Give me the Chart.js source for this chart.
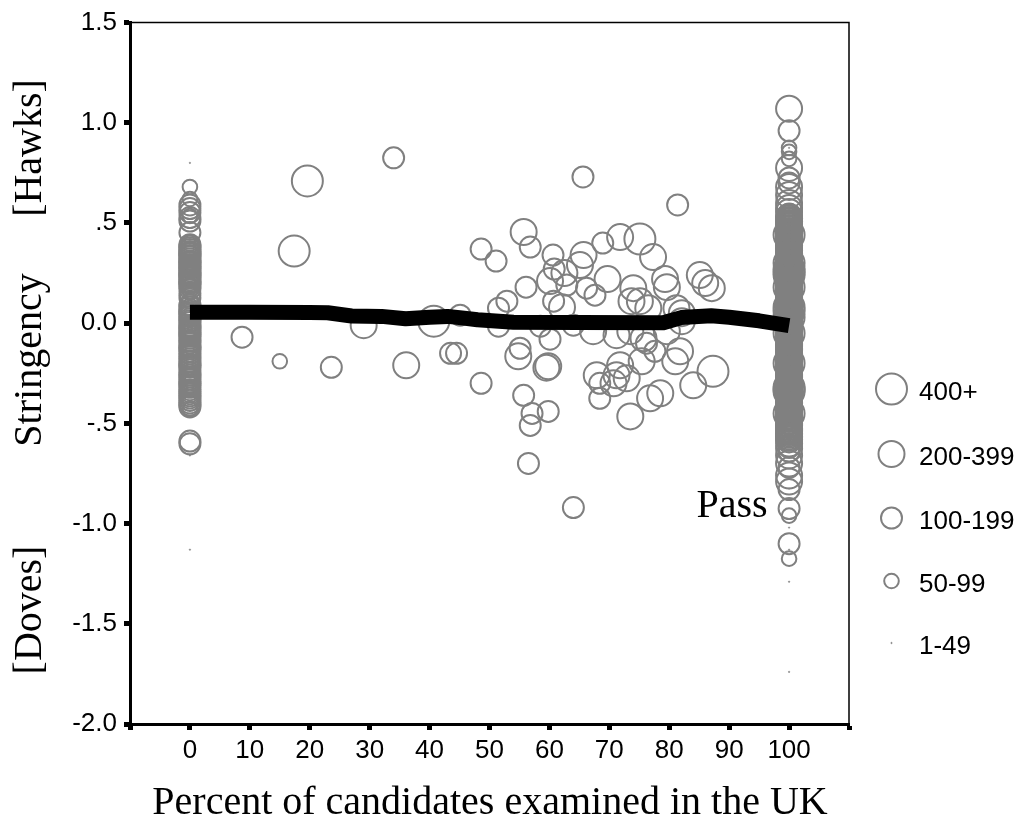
<!DOCTYPE html>
<html>
<head>
<meta charset="utf-8">
<script src="https://cdn.jsdelivr.net/npm/chart.js@4.4.1/dist/chart.umd.min.js"></script>
<style>
html,body{margin:0;padding:0;background:#fff;}
canvas{display:block;}
</style>
</head>
<body>
<canvas id="chart" width="1020" height="829"></canvas>
<script>
// ---- data ----
var sizeLabels = ['400+', '200-399', '100-199', '50-99', '1-49'];

var yTickValues = [-2, -1.5, -1, -0.5, 0, 0.5, 1, 1.5];
var yTickLabels = ['-2.0', '-1.5', '-1.0', '-.5', '0.0', '.5', '1.0', '1.5'];
var xTickLabelValues = [0, 10, 20, 30, 40, 50, 60, 70, 80, 90, 100];

// centres scattered between 0 and 100 percent, [x, y]
var mid400 = [[19.6,0.71],[17.4,0.36],[75.1,0.42],[40.7,0.01],[87.3,-0.24]];
var mid200 = [[55.7,0.455],[62.5,0.25],[65.7,0.34],[65.1,0.29],[71.8,0.43],[77.3,0.33],[60.1,0.21],
  [69.7,0.22],[74,0.175],[75.1,0.11],[73.7,0.11],[76.5,0.075],[79.3,0.22],[79.6,0.18],[85.1,0.24],
  [86,0.2],[87.1,0.175],[81.2,0.075],[82.1,0.05],[62.1,0.08],[67.3,-0.04],[71.2,-0.06],[73.5,-0.04],
  [75.7,-0.075],[79.6,-0.04],[82.1,0.01],[81.8,-0.14],[81,-0.19],[75.4,-0.19],[71.8,-0.21],[71.2,-0.26],
  [67.9,-0.26],[72.9,-0.275],[70.7,-0.3],[84,-0.31],[76.8,-0.375],[78.5,-0.35],[73.5,-0.465],
  [36.1,-0.21],[54.8,-0.165],[59.8,-0.215],[59.5,-0.222],[29,-0.01]];
var mid100 = [[56.8,0.38],[48.6,0.37],[51.1,0.31],[60.6,0.34],[60.8,0.27],[68.9,0.40],[56.1,0.18],
  [62.9,0.19],[66.2,0.175],[67.6,0.14],[60.7,0.11],[52.9,0.11],[51.5,0.075],[45.1,0.04],[51.5,-0.015],
  [58.5,-0.015],[64,-0.01],[60.1,-0.08],[55.1,-0.125],[76.2,-0.10],[77.6,-0.14],[68.4,-0.30],
  [68.4,-0.375],[43.5,-0.15],[44.5,-0.15],[48.6,-0.30],[55.7,-0.36],[57.1,-0.45],[59.8,-0.44],
  [56.8,-0.51],[56.5,-0.70],[64,-0.92],[34,0.825],[65.6,0.73],[81.4,0.59],[8.7,-0.07],[23.6,-0.22]];
var mid50 = [[15,-0.19]];

// column at 0 percent (y only)
var col0_100 = [0.59,0.572,0.553,0.527,0.51,0.452,0.392,0.385,0.377,0.368,0.358,0.352,0.347,0.338,
  0.331,0.322,0.312,0.307,0.302,0.293,0.284,0.278,0.272,0.262,0.253,0.247,0.241,0.233,0.227,0.217,
  0.208,0.202,0.196,0.185,0.171,0.148,0.127,0.092,0.082,0.068,0.06,0.052,0.042,0.033,0.022,0.012,
  0.003,-0.011,-0.018,-0.028,-0.038,-0.047,-0.055,-0.063,-0.075,-0.088,-0.098,-0.112,-0.12,-0.128,
  -0.14,-0.152,-0.165,-0.178,-0.19,-0.203,-0.21,-0.218,-0.232,-0.247,-0.258,-0.268,-0.28,-0.292,
  -0.3,-0.309,-0.32,-0.332,-0.342,-0.352,-0.362,-0.373,-0.385,-0.398,-0.408,-0.418,-0.588,-0.602];
var col0_50 = [0.68,0.62,0.535,0.16,-0.26,-0.43];
var col0_1 = [0.80,0.02,-0.44,-0.66,-1.13];

// column at 100 percent (y only)
var col100_400 = [0.44,0.30,0.27,0.255,0.24,0.18,0.08,0.06,0.03,-0.05,-0.2,-0.32,-0.33,-0.34,-0.45];
var col100_200 = [1.07,0.775,0.68,0.64,0.6,0.575,0.555,0.53,0.523,0.515,0.507,0.50,0.495,0.49,
  0.482,0.475,0.468,0.46,0.454,0.448,0.441,0.435,0.428,0.42,0.415,0.41,0.402,0.395,0.388,0.38,
  0.375,0.37,0.362,0.355,0.348,0.34,0.335,0.33,0.322,0.315,0.308,0.30,0.296,0.29,0.282,0.275,
  0.268,0.262,0.256,0.25,0.244,0.238,0.231,0.225,0.218,0.21,0.205,0.2,0.192,0.185,0.178,0.172,
  0.166,0.16,0.154,0.148,0.141,0.135,0.128,0.12,0.115,0.11,0.102,0.095,0.088,0.082,0.076,0.07,
  0.064,0.058,0.051,0.045,0.038,0.03,0.025,0.02,0.012,0.005,-0.002,-0.008,-0.014,-0.02,-0.028,
  -0.035,-0.04,-0.045,-0.052,-0.06,-0.066,-0.072,-0.078,-0.085,-0.092,-0.1,-0.105,-0.11,-0.118,
  -0.125,-0.131,-0.138,-0.144,-0.15,-0.158,-0.165,-0.17,-0.175,-0.182,-0.19,-0.195,-0.2,-0.208,
  -0.215,-0.221,-0.228,-0.234,-0.24,-0.248,-0.255,-0.26,-0.265,-0.272,-0.28,-0.286,-0.292,-0.298,
  -0.305,-0.312,-0.318,-0.324,-0.33,-0.338,-0.345,-0.35,-0.355,-0.362,-0.37,-0.376,-0.382,-0.388,
  -0.395,-0.402,-0.408,-0.414,-0.42,-0.428,-0.435,-0.44,-0.445,-0.452,-0.46,-0.466,-0.472,-0.478,
  -0.485,-0.492,-0.5,-0.505,-0.51,-0.518,-0.525,-0.53,-0.535,-0.542,-0.55,-0.557,-0.565,-0.572,
  -0.58,-0.6,-0.625,-0.66,-0.7,-0.76,-0.79];
var col100_100 = [0.96,0.725,0.70,0.545,0.505,0.455,0.405,0.36,0.31,0.268,0.215,0.165,0.118,0.065,
  0.012,-0.04,-0.092,-0.142,-0.195,-0.248,-0.3,-0.35,-0.4,-0.452,-0.505,-0.555,-0.62,-0.64,-0.72,
  -0.83,-0.925,-1.10];
var col100_50 = [0.875,0.855,0.82,-0.96,-1.175];
var col100_1 = [0.875,0.78,-0.825,-1.02,-1.13,-1.29,-1.74];

// smoothed fit line
var fitX = [0,10,20,23,27,32,36,40,43,45,48,54,65,79,82,87,90,95,100];
var fitY = [0.055,0.055,0.054,0.052,0.036,0.034,0.022,0.03,0.034,0.028,0.017,0.005,0.003,0.002,0.028,0.037,0.03,0.012,-0.012];

// ---- build ----
var GRAY = '#808080';
var radii = [15.5, 13, 10.5, 7.3, 0.7];

function pairs(a){ return a.map(function(p){ return {x:p[0], y:p[1]}; }); }
function column(x, ys){ return ys.map(function(y){ return {x:x, y:y}; }); }

var classData = [
  pairs(mid400).concat(column(100, col100_400)),
  pairs(mid200).concat(column(100, col100_200)),
  pairs(mid100).concat(column(0, col0_100), column(100, col100_100)),
  pairs(mid50).concat(column(0, col0_50), column(100, col100_50)),
  column(0, col0_1).concat(column(100, col100_1))
];

var datasets = [{
  type:'line', label:'fit', order:0,
  data: fitX.map(function(x,i){ return {x:x, y:fitY[i]}; }),
  borderColor:'#000', borderWidth:15, pointRadius:0, tension:0,
  borderCapStyle:'butt', borderJoinStyle:'round', fill:false
}];
sizeLabels.forEach(function(lab, i){
  datasets.push({
    type:'scatter', label:lab, order:1, data:classData[i],
    pointRadius:radii[i], pointHoverRadius:radii[i],
    pointBorderColor:GRAY, pointBackgroundColor: i===4 ? GRAY : 'rgba(0,0,0,0)',
    pointBorderWidth: i===4 ? 0.6 : 2
  });
});

var AREA = {left:130, right:849, top:22, bottom:724};
var SANS = '"Liberation Sans", Arial, sans-serif';
var SERIF = '"Liberation Serif", "Times New Roman", serif';

var decor = {
  id:'decor',
  afterDraw:function(chart){
    var ctx = chart.ctx, a = chart.chartArea;
    ctx.save();
    // thin top/right frame
    ctx.strokeStyle = '#000'; ctx.lineWidth = 1.5;
    ctx.beginPath();
    ctx.moveTo(a.left, a.top); ctx.lineTo(a.right, a.top); ctx.lineTo(a.right, a.bottom);
    ctx.stroke();

    // axis titles
    ctx.fillStyle = '#000';
    ctx.font = '40px ' + SERIF;
    ctx.textAlign = 'center'; ctx.textBaseline = 'alphabetic';
    ctx.fillText('Percent of candidates examined in the UK', 490, 814);
    ctx.fillText('Pass', 732, 517);
    var yt = [['[Hawks]',148],['Stringency',360],['[Doves]',610]];
    yt.forEach(function(t){
      ctx.save();
      ctx.translate(41, t[1]); ctx.rotate(-Math.PI/2);
      ctx.fillText(t[0], 0, 0);
      ctx.restore();
    });

    // legend
    var ly = [389, 454, 518, 581, 643];
    ctx.font = '26px ' + SANS; ctx.textAlign = 'left'; ctx.textBaseline = 'middle';
    chart.data.datasets.forEach(function(ds){
      var i = sizeLabels.indexOf(ds.label);
      if(i < 0) return;
      ctx.beginPath();
      ctx.arc(891.5, ly[i], ds.pointRadius, 0, Math.PI*2);
      ctx.lineWidth = ds.pointBorderWidth; ctx.strokeStyle = GRAY;
      if(i===4){ ctx.fillStyle = GRAY; ctx.fill(); }
      ctx.stroke();
      ctx.fillStyle = '#000';
      ctx.fillText(ds.label, 919, ly[i] + 4);
    });
    ctx.restore();
  }
};

new Chart(document.getElementById('chart'), {
  type:'scatter',
  data:{datasets:datasets},
  options:{
    responsive:false, animation:false, devicePixelRatio:1,
    layout:{padding:{left:0, right:1020-AREA.right, top:AREA.top, bottom:0}},
    plugins:{legend:{display:false}, tooltip:{enabled:false}},
    scales:{
      x:{
        type:'linear', min:-10, max:110,
        afterFit:function(s){ s.height = 829 - AREA.bottom; },
        ticks:{stepSize:10, color:'#000', font:{family:SANS, size:26}, padding:5, maxRotation:0,
          callback:function(v){ return xTickLabelValues.indexOf(v) >= 0 ? String(v) : ''; }},
        grid:{drawOnChartArea:false, drawTicks:true, tickLength:6, tickWidth:5, tickColor:'#000'},
        border:{display:true, color:'#000', width:3}
      },
      y:{
        type:'linear', min:-2, max:1.5,
        afterFit:function(s){ s.width = AREA.left; },
        afterBuildTicks:function(s){ s.ticks = yTickValues.map(function(v){ return {value:v}; }); },
        ticks:{color:'#000', font:{family:SANS, size:26}, padding:7,
          callback:function(v){ var i = yTickValues.indexOf(v); return i >= 0 ? yTickLabels[i] : ''; }},
        grid:{drawOnChartArea:false, drawTicks:true, tickLength:6, tickWidth:5, tickColor:'#000'},
        border:{display:true, color:'#000', width:3}
      }
    }
  },
  plugins:[decor]
});
</script>
</body>
</html>
